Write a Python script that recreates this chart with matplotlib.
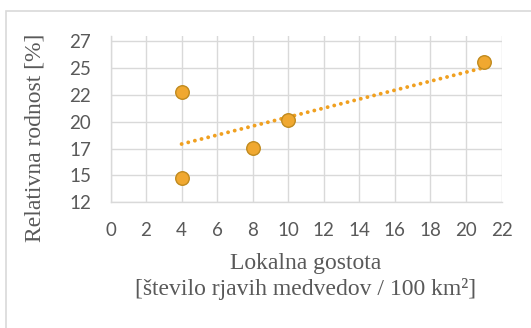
import matplotlib
matplotlib.use("Agg")
import matplotlib.pyplot as plt
import matplotlib.patches as mpatches
import numpy as np

# Data
density = [4, 4, 8, 10, 21]
fertility = [22.3, 14.25, 17.1, 19.7, 25.1]
x_ticks = [0, 2, 4, 6, 8, 10, 12, 14, 16, 18, 20, 22]
y_ticks = [12, 14.5, 17, 19.5, 22, 24.5, 27]
y_tick_labels = ["12", "15", "17", "20", "22", "25", "27"]
x_title = "Lokalna gostota"
x_title2 = "[število rjavih medvedov / 100 km²]"
y_title = "Relativna rodnost [%]"

W, H = 531, 328
fig = plt.figure(figsize=(W / 100, H / 100), dpi=100)
fig.patch.set_facecolor("white")

# outer chart frame
fig.patches.append(mpatches.Rectangle((5.8 / W, -0.1), 1.2, 1 - 10.7 / H + 0.1,
                                      transform=fig.transFigure, fill=False,
                                      edgecolor="#D9D9D9", linewidth=1.2))

left, right, bottom, top = 110.5, 501.5, 202.3, 36.0
ax = fig.add_axes([left / W, 1 - bottom / H, (right - left) / W, (bottom - top) / H])
ax.set_xlim(0, 22)
ax.set_ylim(12, 27.5)
ax.set_xticks(x_ticks)
ax.set_yticks(y_ticks)
ax.set_yticklabels(y_tick_labels)
ax.grid(True, color="#D9D9D9", linewidth=1.0)
ax.set_axisbelow(True)
for s in ["top", "right"]:
    ax.spines[s].set_visible(False)
for s in ["left", "bottom"]:
    ax.spines[s].set_color("#D9D9D9")
    ax.spines[s].set_linewidth(1.0)
ax.tick_params(length=0, labelsize=13.5, labelcolor="#595959")
ax.tick_params(axis="y", pad=14)
ax.tick_params(axis="x", pad=14)
for lab in ax.get_xticklabels() + ax.get_yticklabels():
    lab.set_family("Lato")

# trendline
k, b = np.polyfit(density, fertility, 1)
xs = np.array([min(density), max(density)])
ax.plot(xs, k * xs + b, linestyle=(0, (0.01, 1.75)), color="#F0A020", linewidth=2.8,
        dash_capstyle="round", solid_capstyle="round", zorder=2)

ax.scatter(density, fertility, s=95, facecolor="#F0A830", edgecolor="#C08A1E",
           linewidth=1.0, zorder=3)

fig.text(306 / W, 1 - 263 / H, x_title, ha="center", va="center",
         family="Liberation Serif", fontsize=17, color="#595959")
fig.text(306 / W, 1 - 289 / H, x_title2, ha="center", va="center",
         family="Liberation Serif", fontsize=17, color="#595959")
fig.text(35 / W, 1 - 137.5 / H, y_title, ha="center", va="center", rotation=90,
         family="Liberation Serif", fontsize=17, color="#595959")

fig.savefig("out.png", dpi=100)
